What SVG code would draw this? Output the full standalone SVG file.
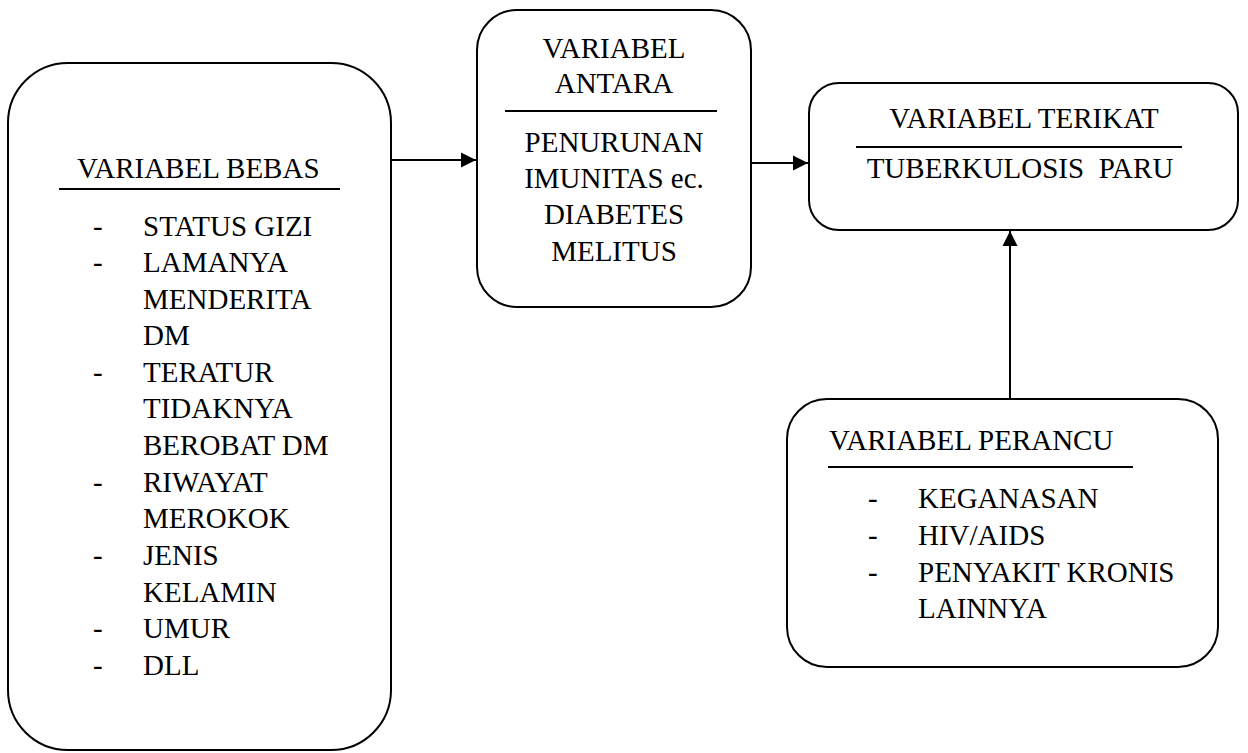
<svg xmlns="http://www.w3.org/2000/svg" width="1248" height="753" viewBox="0 0 1248 753" font-family="'Liberation Serif', 'Times New Roman', Tinos, 'DejaVu Serif', serif">
<style>
.box{fill:#fff;stroke:#000;stroke-width:2}
.sep{stroke:#000;stroke-width:2}
text{font-family:'Liberation Serif','Times New Roman',Tinos,'DejaVu Serif',serif;font-size:29px;fill:#000}
.c{text-anchor:middle}
.conn{stroke:#000;stroke-width:2;fill:none}
</style>
<defs>
<marker id="ah" markerWidth="16" markerHeight="16" refX="15" refY="8" orient="auto" markerUnits="userSpaceOnUse">
<path d="M0,0.5 L15,8 L0,15.5 Z" fill="#000"/>
</marker>
</defs>
<g id="connectors">
<line class="conn" x1="391" y1="160" x2="476" y2="160" marker-end="url(#ah)"/>
<line class="conn" x1="751" y1="163" x2="808" y2="163" marker-end="url(#ah)"/>
<line class="conn" x1="1010" y1="399" x2="1010" y2="231" marker-end="url(#ah)"/>
</g>
<g id="variabel-bebas">
<rect class="box" x="8" y="63" width="383" height="687" rx="60" ry="60"/>
<text x="77" y="178">VARIABEL BEBAS</text>
<line class="sep" x1="59" y1="189" x2="340" y2="189"/>
<text x="93" y="236">-</text><text x="143" y="236">STATUS GIZI</text>
<text x="93" y="272">-</text><text x="143" y="272">LAMANYA</text>
<text x="143" y="309">MENDERITA</text>
<text x="143" y="345">DM</text>
<text x="93" y="382">-</text><text x="143" y="382">TERATUR</text>
<text x="143" y="418">TIDAKNYA</text>
<text x="143" y="455">BEROBAT DM</text>
<text x="93" y="492">-</text><text x="143" y="492">RIWAYAT</text>
<text x="143" y="528">MEROKOK</text>
<text x="93" y="565">-</text><text x="143" y="565">JENIS</text>
<text x="143" y="602">KELAMIN</text>
<text x="93" y="638">-</text><text x="143" y="638">UMUR</text>
<text x="93" y="675">-</text><text x="143" y="675">DLL</text>
</g>
<g id="variabel-antara">
<rect class="box" x="477" y="10" width="274" height="297" rx="40" ry="40"/>
<text class="c" x="614" y="58">VARIABEL</text>
<text class="c" x="614" y="93">ANTARA</text>
<line class="sep" x1="505" y1="111" x2="717" y2="111"/>
<text class="c" x="614" y="152">PENURUNAN</text>
<text class="c" x="614" y="188">IMUNITAS ec.</text>
<text class="c" x="614" y="224">DIABETES</text>
<text class="c" x="614" y="261">MELITUS</text>
</g>
<g id="variabel-terikat">
<rect class="box" x="809" y="83" width="429" height="147" rx="30" ry="30"/>
<text class="c" x="1024" y="128">VARIABEL TERIKAT</text>
<line class="sep" x1="856" y1="147" x2="1182" y2="147"/>
<text class="c" x="1020" y="178" xml:space="preserve">TUBERKULOSIS  PARU</text>
</g>
<g id="variabel-perancu">
<rect class="box" x="787" y="399" width="431" height="268" rx="40" ry="40"/>
<text x="829" y="450">VARIABEL PERANCU</text>
<line class="sep" x1="828" y1="467" x2="1133" y2="467"/>
<text x="868" y="508">-</text><text x="918" y="508">KEGANASAN</text>
<text x="868" y="545">-</text><text x="918" y="545">HIV/AIDS</text>
<text x="868" y="582">-</text><text x="918" y="582">PENYAKIT KRONIS</text>
<text x="918" y="618">LAINNYA</text>
</g>
</svg>
